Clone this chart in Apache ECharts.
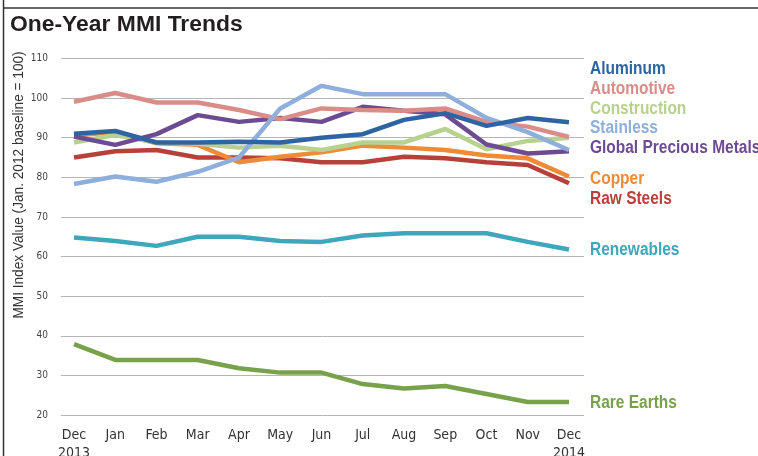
<!DOCTYPE html>
<html>
<head>
<meta charset="utf-8">
<script src="https://cdn.jsdelivr.net/npm/echarts@6/dist/echarts.min.js"></script>
<style>html,body{margin:0;padding:0;background:#fff}#c{width:758px;height:456px}</style>
</head>
<body>
<div id="c"></div>
<script>
var months = ['Dec\n2013','Jan','Feb','Mar','Apr','May','Jun','Jul','Aug','Sep','Oct','Nov','Dec\n2014'];
var yTicks = [20,30,40,50,60,70,80,90,100,110];

var aluminum     = [91, 91.7, 88.8, 88.8, 89, 88.8, 90, 90.9, 94.5, 96.2, 93, 95, 93.9];
var automotive   = [99.1, 101.3, 98.9, 98.9, 97, 94.7, 97.4, 97, 96.8, 97.4, 94, 92.8, 90.2];
var construction = [88.8, 90.7, 88.8, 88.5, 87.5, 88, 86.9, 88.8, 88.8, 92.2, 87.1, 89.2, 90];
var stainless    = [78.3, 80.2, 78.9, 81.4, 85, 97.4, 103.1, 101, 101, 101, 95, 91.4, 86.9];
var preciousMetals = [90.3, 88.2, 90.9, 95.7, 94, 95, 94, 97.8, 96.8, 95.9, 88.3, 86, 86.6];
var copper       = [90.5, 91.5, 88.6, 88.2, 83.8, 85.2, 86.3, 88, 87.5, 86.9, 85.5, 84.8, 80.2];
var rawSteels    = [85, 86.6, 86.9, 85, 85, 84.8, 83.8, 83.8, 85.2, 84.8, 83.8, 83.1, 78.5];
var renewables   = [64.8, 63.9, 62.7, 65, 65, 63.9, 63.7, 65.3, 65.9, 65.9, 65.9, 63.7, 61.8];
var rareEarths   = [37.9, 33.9, 33.9, 33.9, 31.8, 30.7, 30.7, 27.8, 26.7, 27.3, 25.3, 23.3, 23.3];

var seriesDefs = [
  {name:'Rare Earths', data:rareEarths, color:'#77a24b', labelY:403},
  {name:'Renewables', data:renewables, color:'#3ea7bb', labelY:250},
  {name:'Raw Steels', data:rawSteels, color:'#b8403b', labelY:199},
  {name:'Copper', data:copper, color:'#ee8a38', labelY:179},
  {name:'Construction', data:construction, color:'#b7d18f', labelY:109},
  {name:'Global Precious Metals', data:preciousMetals, color:'#6c4b92', labelY:148},
  {name:'Automotive', data:automotive, color:'#d98c88', labelY:89},
  {name:'Stainless', data:stainless, color:'#8eaedb', labelY:128},
  {name:'Aluminum', data:aluminum, color:'#2f64a3', labelY:69}
];

var chart = echarts.init(document.getElementById('c'));
var LF = '"Liberation Sans", Arial, sans-serif';
var CF = '"DejaVu Sans Condensed", "Liberation Sans", sans-serif';

var graphics = [
  {type:'line', shape:{x1:3.5,y1:0,x2:3.5,y2:456}, style:{stroke:'#333',lineWidth:1.5}, z:10},
  {type:'line', shape:{x1:3,y1:8,x2:758,y2:8}, style:{stroke:'#333',lineWidth:1.5}, z:10},
  {type:'text', x:10, y:25, scaleX:1.04, style:{text:'One-Year MMI Trends', font:'bold 22px '+LF, fill:'#231f20', textVerticalAlign:'middle'}},
  {type:'text', x:19, y:185, rotation:Math.PI/2, scaleX:0.91, style:{text:'MMI Index Value (Jan. 2012 baseline = 100)', font:'15px '+LF, fill:'#333', textAlign:'center', textVerticalAlign:'middle'}}
];
seriesDefs.forEach(function(s){
  graphics.push({type:'text', x:590, y:s.labelY, scaleX:0.86, style:{text:s.name, font:'bold 18px '+LF, fill:s.color, textAlign:'left', textVerticalAlign:'middle'}});
});

chart.setOption({
  animation:false,
  grid:[
    {left:61, right:174, top:58.5, bottom:41, outerBoundsMode:'none', containLabel:false},
    {left:74, right:189, top:58.5, bottom:41, outerBoundsMode:'none', containLabel:false}
  ],
  xAxis:[
    {gridIndex:0, type:'value', show:false, min:0, max:1},
    {gridIndex:1, type:'category', data:months, boundaryGap:false,
     axisLine:{show:false}, axisTick:{show:false}, splitLine:{show:false},
     axisLabel:{interval:0, margin:11, fontFamily:CF, fontSize:14, color:'#333', lineHeight:18}}
  ],
  yAxis:[
    {gridIndex:0, type:'value', min:20, max:110, interval:10,
     axisLine:{show:false}, axisTick:{show:false},
     splitLine:{lineStyle:{color:'#b5b5b5', width:1}},
     axisLabel:{margin:13, fontFamily:CF, fontSize:10, color:'#444',
       formatter:function(v){return yTicks.indexOf(v)>=0 ? String(v) : '';}}},
    {gridIndex:1, type:'value', min:20, max:110, interval:10, show:false}
  ],
  series:seriesDefs.map(function(s){
    return {name:s.name, type:'line', xAxisIndex:1, yAxisIndex:1, data:s.data,
      symbol:'none', lineStyle:{color:s.color, width:4.5}, itemStyle:{color:s.color}};
  }),
  graphic:graphics
});
</script>
</body>
</html>
